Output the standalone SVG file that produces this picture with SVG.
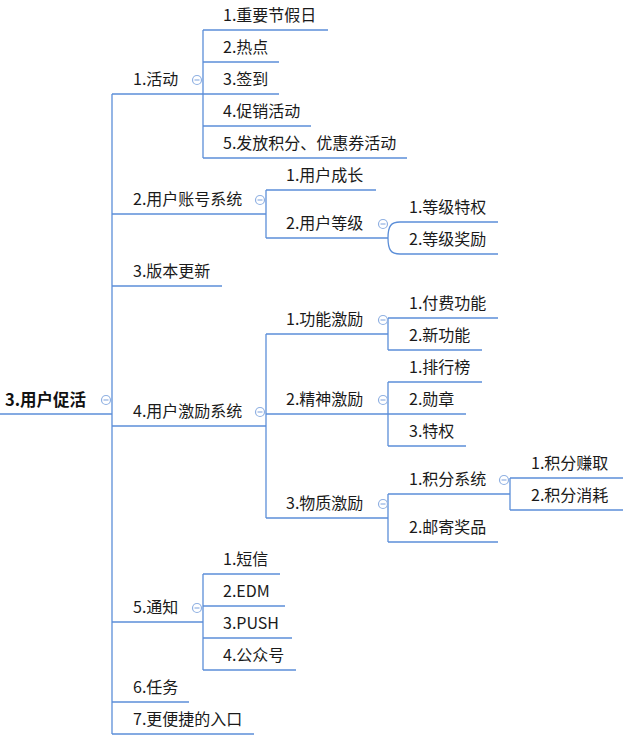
<svg xmlns="http://www.w3.org/2000/svg" width="623" height="740" viewBox="0 0 623 740">
<defs>
<style>
.ul{stroke:#5b8ed8;stroke-width:1.3;fill:none}
.cn{stroke:#5b8ed8;stroke-width:1.3;fill:none}
.t{font-family:"Noto Sans CJK SC","Microsoft YaHei",sans-serif;font-size:16px;fill:#1a1a1a}
.root{font-family:"Noto Sans CJK SC","Microsoft YaHei",sans-serif;font-size:16.5px;font-weight:bold;fill:#111}
.cc{stroke:#8fb0e2;stroke-width:1.2;fill:#fff}
.cm{stroke:#8fb0e2;stroke-width:1.2}
</style>
<g id="collapse"><circle class="cc" cx="0" cy="0" r="4.5"/><line class="cm" x1="-2.5" y1="0" x2="2.5" y2="0"/></g>
</defs>
<rect width="623" height="740" fill="#fff"/>

<g id="connectors">
<path class="cn" d="M112 94 V734"/>
<path class="cn" d="M203 30 V158"/>
<path class="cn" d="M266 190 V238"/>
<path class="cn" d="M388 238 C388 226 391 222 400 222 M388 238 C388 250 391 254 400 254"/>
<path class="cn" d="M266 334 V518"/>
<path class="cn" d="M388 318 V350"/>
<path class="cn" d="M388 382 V446"/>
<path class="cn" d="M388 494 V542"/>
<path class="cn" d="M510 478 V510"/>
<path class="cn" d="M203 574 V670"/>
</g>

<g id="root"><path class="ul" d="M0 414 H112"/><text class="root" x="5" y="406">3.用户促活</text><use href="#collapse" x="106" y="400"/></g>

<g id="n1"><path class="ul" d="M112 94 H203"/><text class="t" x="133" y="85">1.活动</text><use href="#collapse" x="197" y="80"/></g>
<g id="n1-1"><path class="ul" d="M203 30 H328"/><text class="t" x="223" y="21">1.重要节假日</text></g>
<g id="n1-2"><path class="ul" d="M203 62 H279"/><text class="t" x="223" y="53">2.热点</text></g>
<g id="n1-3"><path class="ul" d="M203 94 H279"/><text class="t" x="223" y="85">3.签到</text></g>
<g id="n1-4"><path class="ul" d="M203 126 H311"/><text class="t" x="223" y="117">4.促销活动</text></g>
<g id="n1-5"><path class="ul" d="M203 158 H407"/><text class="t" x="223" y="149">5.发放积分、优惠券活动</text></g>

<g id="n2"><path class="ul" d="M112 214 H266"/><text class="t" x="133" y="205">2.用户账号系统</text><use href="#collapse" x="260" y="200"/></g>
<g id="n2-1"><path class="ul" d="M266 190 H376"/><text class="t" x="286" y="181">1.用户成长</text></g>
<g id="n2-2"><path class="ul" d="M266 238 H388"/><text class="t" x="286" y="229">2.用户等级</text><use href="#collapse" x="383" y="224"/></g>
<g id="n2-2-1"><path class="ul" d="M400 222 H498"/><text class="t" x="409" y="213">1.等级特权</text></g>
<g id="n2-2-2"><path class="ul" d="M400 254 H498"/><text class="t" x="409" y="245">2.等级奖励</text></g>

<g id="n3"><path class="ul" d="M112 286 H222"/><text class="t" x="133" y="277">3.版本更新</text></g>

<g id="n4"><path class="ul" d="M112 426 H266"/><text class="t" x="133" y="417">4.用户激励系统</text><use href="#collapse" x="260" y="412"/></g>
<g id="n4-1"><path class="ul" d="M266 334 H388"/><text class="t" x="286" y="325">1.功能激励</text><use href="#collapse" x="383" y="320"/></g>
<g id="n4-1-1"><path class="ul" d="M388 318 H498"/><text class="t" x="409" y="309">1.付费功能</text></g>
<g id="n4-1-2"><path class="ul" d="M388 350 H482"/><text class="t" x="409" y="341">2.新功能</text></g>
<g id="n4-2"><path class="ul" d="M266 414 H388"/><text class="t" x="286" y="405">2.精神激励</text><use href="#collapse" x="383" y="400"/></g>
<g id="n4-2-1"><path class="ul" d="M388 382 H482"/><text class="t" x="409" y="373">1.排行榜</text></g>
<g id="n4-2-2"><path class="ul" d="M388 414 H466"/><text class="t" x="409" y="405">2.勋章</text></g>
<g id="n4-2-3"><path class="ul" d="M388 446 H466"/><text class="t" x="409" y="437">3.特权</text></g>
<g id="n4-3"><path class="ul" d="M266 518 H388"/><text class="t" x="286" y="509">3.物质激励</text><use href="#collapse" x="383" y="504"/></g>
<g id="n4-3-1"><path class="ul" d="M388 494 H510"/><text class="t" x="409" y="485">1.积分系统</text><use href="#collapse" x="504" y="480"/></g>
<g id="n4-3-1-1"><path class="ul" d="M510 478 H623"/><text class="t" x="531" y="469">1.积分赚取</text></g>
<g id="n4-3-1-2"><path class="ul" d="M510 510 H623"/><text class="t" x="531" y="501">2.积分消耗</text></g>
<g id="n4-3-2"><path class="ul" d="M388 542 H498"/><text class="t" x="409" y="533">2.邮寄奖品</text></g>

<g id="n5"><path class="ul" d="M112 622 H203"/><text class="t" x="133" y="613">5.通知</text><use href="#collapse" x="197" y="608"/></g>
<g id="n5-1"><path class="ul" d="M203 574 H280"/><text class="t" x="223" y="565">1.短信</text></g>
<g id="n5-2"><path class="ul" d="M203 606 H285"/><text class="t" x="223" y="597">2.EDM</text></g>
<g id="n5-3"><path class="ul" d="M203 638 H292"/><text class="t" x="223" y="629">3.PUSH</text></g>
<g id="n5-4"><path class="ul" d="M203 670 H296"/><text class="t" x="223" y="661">4.公众号</text></g>

<g id="n6"><path class="ul" d="M112 702 H189"/><text class="t" x="133" y="693">6.任务</text></g>
<g id="n7"><path class="ul" d="M112 734 H254"/><text class="t" x="133" y="725">7.更便捷的入口</text></g>
</svg>
